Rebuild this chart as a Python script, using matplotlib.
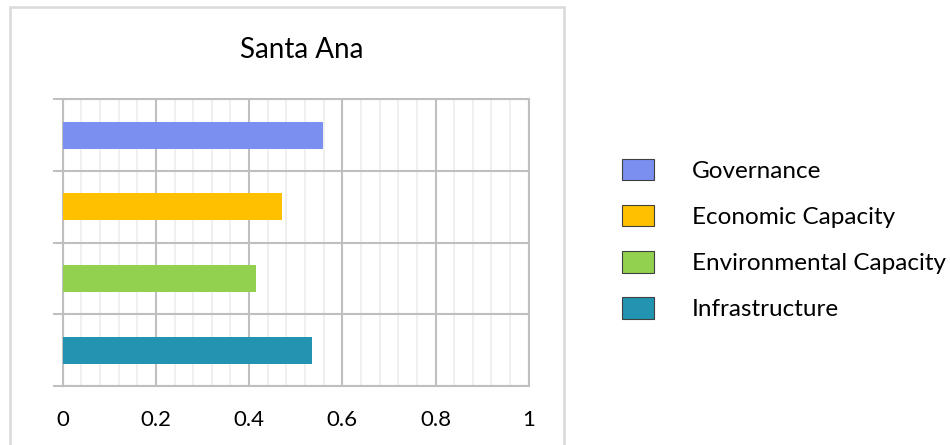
import matplotlib
matplotlib.use("Agg")
import matplotlib.pyplot as plt
from matplotlib.patches import Rectangle
import numpy as np

plt.rcParams['font.family'] = ['Lato', 'DejaVu Sans']

categories = ["Infrastructure", "Environmental Capacity", "Economic Capacity", "Governance"]
values = [0.535, 0.415, 0.471, 0.559]
colors = ["#2293b0", "#92d050", "#ffc000", "#7a8fef"]
xticks = [0, 0.2, 0.4, 0.6, 0.8, 1]
xticklabels = ["0", "0.2", "0.4", "0.6", "0.8", "1"]
title = "Santa Ana"

W, H = 950, 445
fig = plt.figure(figsize=(W/100, H/100), dpi=100)
ax = fig.add_axes([62.7/W, (H-386)/H, (528.7-62.7)/W, (386-99.3)/H])

ypos = np.arange(len(categories))
bars = ax.barh(ypos, values, height=0.38, color=colors, zorder=3)

ax.set_xlim(0, 1)
ax.set_ylim(-0.5, len(categories) - 0.5)

# grid
ax.set_xticks(xticks)
ax.set_xticklabels(xticklabels, fontsize=16)
ax.set_xticks(np.arange(0, 1.0001, 0.04), minor=True)
ax.tick_params(axis='x', which='both', length=0, pad=17, colors='black')
ax.grid(axis='x', which='minor', color='#efefef', lw=1.3, zorder=1)
ax.grid(axis='x', which='major', color='#bfbfbf', lw=1.5, zorder=2)

bounds = np.arange(-0.5, len(categories), 1.0)
ax.set_yticks(bounds)
ax.set_yticklabels([])
ax.tick_params(axis='y', which='major', length=7, width=1.5, color='#bfbfbf', direction='out')
ax.grid(axis='y', which='major', color='#bfbfbf', lw=1.5, zorder=2)

for s in ax.spines.values():
    s.set_color('#bfbfbf')
    s.set_linewidth(1.5)

fig.text(302/W, 1 - 50/H, title, ha='center', va='center', fontsize=20)

fs = 17.5
fpx = fs * 100 / 72
fig.legend(handles=list(bars)[::-1], labels=categories[::-1],
           loc='center left', bbox_to_anchor=(621.7/W, 1 - 239.5/H),
           frameon=False, fontsize=fs, handlelength=32/fpx, handleheight=24/fpx,
           handletextpad=38.4/fpx, labelspacing=0.95, borderaxespad=0, borderpad=0)
for h in fig.legends[0].legend_handles:
    h.set_edgecolor('#404040')
    h.set_linewidth(0.8)

fig.add_artist(Rectangle((10/W, -0.05), (564-10)/W, 1.05 - 7/H,
                         transform=fig.transFigure, fill=False,
                         edgecolor='#d9d9d9', lw=1.8))

fig.savefig("out.png", dpi=100)
